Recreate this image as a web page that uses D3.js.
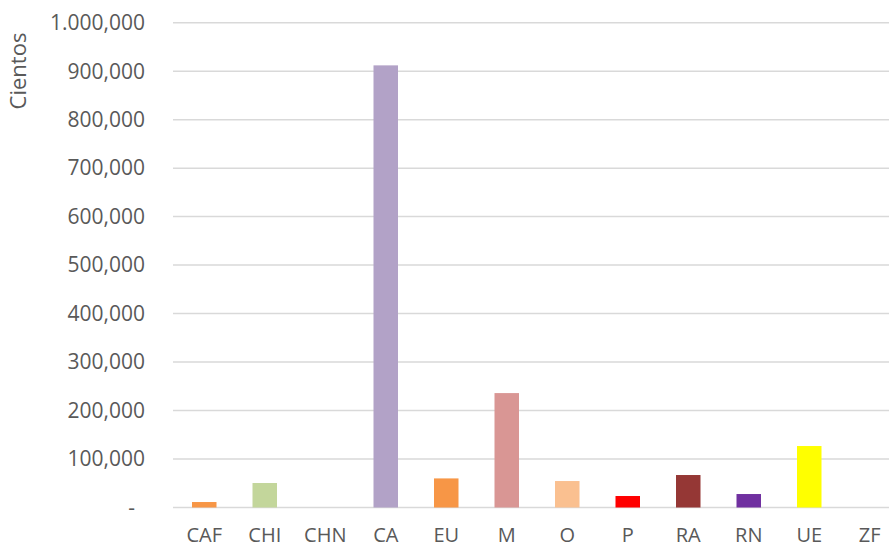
<!DOCTYPE html>
<html>
<head>
<meta charset="utf-8">
<script src="https://cdn.jsdelivr.net/npm/d3@7"></script>
<style>
  body { margin: 0; background: #fff; }
  svg text { font-family: "Open Sans", sans-serif; fill: #595959; }
</style>
</head>
<body>
<script>
// chart data
var categories = ["CAF", "CHI", "CHN", "CA", "EU", "M", "O", "P", "RA", "RN", "UE", "ZF"];
var values = [11300, 50500, 0, 912000, 60000, 236000, 54600, 23700, 67000, 27800, 126800, 0];
var barColors = ["#F79646", "#C3D69B", "#4F81BD", "#B2A2C7", "#F79646", "#D99694",
                 "#FAC090", "#FF0000", "#953735", "#7030A0", "#FFFF00", "#4BACC6"];
var yTicks = [0, 100000, 200000, 300000, 400000, 500000, 600000, 700000, 800000, 900000, 1000000];
var yTickLabels = ["-", "100,000", "200,000", "300,000", "400,000", "500,000",
                   "600,000", "700,000", "800,000", "900,000", "1.000,000"];

var width = 889, height = 547;

var svg = d3.select("body").append("svg")
    .attr("width", width)
    .attr("height", height);

var x = d3.scaleBand()
    .domain(categories)
    .range([174, 900])
    .paddingInner(0.595)
    .paddingOuter(0.2975);

var y = d3.scaleLinear()
    .domain([0, 1000000])
    .range([507.5, 22.7]);

// gridlines
svg.append("g")
    .selectAll("line")
    .data(yTicks)
    .enter().append("line")
    .attr("x1", 173)
    .attr("x2", width)
    .attr("y1", function(d) { return y(d); })
    .attr("y2", function(d) { return y(d); })
    .attr("stroke", "#d9d9d9")
    .attr("stroke-width", 1.5);

// y labels
svg.append("g")
    .selectAll("text")
    .data(yTicks)
    .enter().append("text")
    .attr("x", function(d, i) { return i == 0 ? 135 : 145; })
    .attr("y", function(d) { return y(d); })
    .attr("dy", "0.35em")
    .attr("text-anchor", "end")
    .style("font-size", "21px")
    .text(function(d, i) { return yTickLabels[i]; });

// bars
svg.append("g")
    .selectAll("rect")
    .data(values)
    .enter().append("rect")
    .attr("x", function(d, i) { return x(categories[i]); })
    .attr("width", x.bandwidth())
    .attr("y", function(d) { return y(d); })
    .attr("height", function(d) { return y(0) - y(d); })
    .attr("fill", function(d, i) { return barColors[i]; });

// x labels
svg.append("g")
    .selectAll("text")
    .data(categories)
    .enter().append("text")
    .attr("x", function(d) { return x(d) + x.bandwidth() / 2; })
    .attr("y", 542)
    .attr("text-anchor", "middle")
    .style("font-size", "20px")
    .text(function(d) { return d; });

// axis title
svg.append("text")
    .attr("transform", "translate(26,71) rotate(-90)")
    .attr("text-anchor", "middle")
    .style("font-size", "22px")
    .text("Cientos");
</script>
</body>
</html>
